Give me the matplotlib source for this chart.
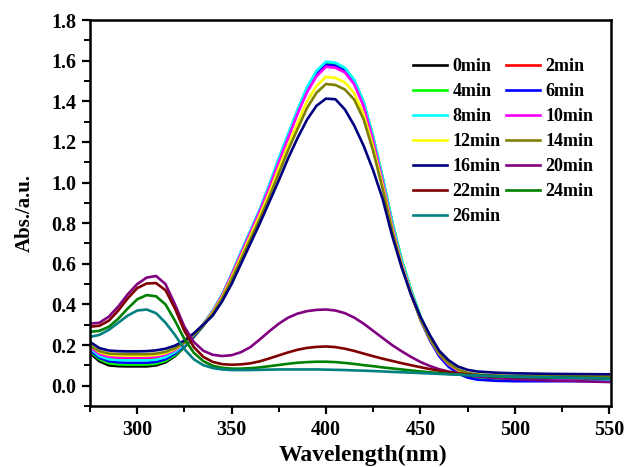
import matplotlib
matplotlib.use("Agg")
import matplotlib.pyplot as plt
from matplotlib.ticker import MultipleLocator

wl = [275, 280, 285, 290, 295, 300, 305, 310, 315, 320, 325, 330, 335, 340, 345,
      350, 355, 360, 365, 370, 375, 380, 385, 390, 395, 400, 405, 410, 415, 420,
      425, 430, 435, 440, 445, 450, 455, 460, 465, 470, 475, 480, 490, 500, 520, 550]

labels = ["0min", "2min", "4min", "6min", "8min", "10min", "12min", "14min",
          "16min", "20min", "22min", "24min", "26min"]

a0 = [0.16, 0.12, 0.10, 0.096, 0.095, 0.095, 0.095, 0.10, 0.115, 0.145, 0.19, 0.24, 0.295, 0.36, 0.44,
      0.54, 0.645, 0.75, 0.86, 0.98, 1.11, 1.23, 1.35, 1.46, 1.54, 1.585, 1.58, 1.555, 1.495, 1.385,
      1.215, 1.015, 0.80, 0.61, 0.46, 0.33, 0.23, 0.15, 0.10, 0.068, 0.05, 0.04, 0.035, 0.032, 0.03, 0.03]
a2 = [0.18, 0.15, 0.138, 0.135, 0.135, 0.135, 0.135, 0.138, 0.148, 0.17, 0.205, 0.25, 0.30, 0.365, 0.445,
      0.545, 0.65, 0.755, 0.865, 0.985, 1.115, 1.235, 1.355, 1.465, 1.545, 1.59, 1.585, 1.56, 1.50, 1.39,
      1.22, 1.02, 0.805, 0.615, 0.465, 0.335, 0.235, 0.155, 0.105, 0.072, 0.055, 0.046, 0.04, 0.037, 0.035, 0.034]
a4 = [0.17, 0.13, 0.11, 0.105, 0.104, 0.104, 0.104, 0.108, 0.122, 0.15, 0.193, 0.243, 0.298, 0.362, 0.445,
      0.545, 0.65, 0.757, 0.865, 0.985, 1.115, 1.235, 1.355, 1.465, 1.545, 1.59, 1.585, 1.562, 1.503, 1.395,
      1.225, 1.027, 0.812, 0.625, 0.475, 0.343, 0.24, 0.157, 0.102, 0.066, 0.045, 0.035, 0.028, 0.026, 0.026, 0.028]
a6 = [0.175, 0.137, 0.12, 0.115, 0.113, 0.113, 0.113, 0.117, 0.13, 0.157, 0.197, 0.245, 0.298, 0.36, 0.44,
      0.54, 0.645, 0.75, 0.86, 0.978, 1.105, 1.225, 1.345, 1.455, 1.533, 1.58, 1.575, 1.55, 1.49, 1.38,
      1.21, 1.01, 0.79, 0.605, 0.455, 0.325, 0.225, 0.145, 0.093, 0.06, 0.04, 0.03, 0.024, 0.022, 0.022, 0.024]
a8 = [0.185, 0.145, 0.13, 0.126, 0.125, 0.125, 0.125, 0.128, 0.14, 0.165, 0.203, 0.25, 0.305, 0.37, 0.45,
      0.55, 0.66, 0.765, 0.87, 0.99, 1.12, 1.24, 1.36, 1.47, 1.55, 1.595, 1.59, 1.565, 1.505, 1.395,
      1.225, 1.025, 0.81, 0.62, 0.47, 0.34, 0.24, 0.16, 0.11, 0.075, 0.055, 0.045, 0.038, 0.035, 0.032, 0.03]
a10 = [0.19, 0.156, 0.143, 0.14, 0.14, 0.14, 0.14, 0.143, 0.153, 0.175, 0.208, 0.252, 0.302, 0.365, 0.445,
       0.545, 0.65, 0.755, 0.86, 0.975, 1.10, 1.22, 1.34, 1.445, 1.523, 1.57, 1.565, 1.542, 1.483, 1.375,
       1.205, 1.005, 0.79, 0.605, 0.46, 0.332, 0.233, 0.155, 0.105, 0.073, 0.056, 0.047, 0.041, 0.038, 0.036, 0.035]
a12 = [0.20, 0.165, 0.152, 0.149, 0.148, 0.148, 0.148, 0.151, 0.16, 0.18, 0.21, 0.252, 0.30, 0.36, 0.437,
       0.533, 0.635, 0.738, 0.84, 0.95, 1.07, 1.185, 1.295, 1.40, 1.475, 1.52, 1.515, 1.493, 1.44, 1.335,
       1.175, 0.985, 0.775, 0.597, 0.455, 0.33, 0.233, 0.157, 0.108, 0.077, 0.061, 0.053, 0.048, 0.046, 0.045, 0.044]
a14 = [0.197, 0.17, 0.158, 0.156, 0.155, 0.155, 0.155, 0.158, 0.166, 0.184, 0.212, 0.252, 0.298, 0.355, 0.43,
       0.523, 0.622, 0.722, 0.822, 0.93, 1.045, 1.16, 1.265, 1.367, 1.442, 1.485, 1.48, 1.458, 1.408, 1.31,
       1.155, 0.97, 0.765, 0.59, 0.45, 0.33, 0.234, 0.158, 0.11, 0.079, 0.063, 0.055, 0.05, 0.048, 0.046, 0.045]
a16 = [0.215, 0.185, 0.173, 0.17, 0.169, 0.169, 0.17, 0.174, 0.182, 0.197, 0.222, 0.258, 0.30, 0.345, 0.415,
       0.50, 0.60, 0.70, 0.80, 0.905, 1.01, 1.12, 1.22, 1.31, 1.378, 1.413, 1.41, 1.36, 1.28, 1.18,
       1.06, 0.92, 0.74, 0.585, 0.45, 0.34, 0.25, 0.172, 0.125, 0.094, 0.078, 0.07, 0.064, 0.061, 0.058, 0.056]
a20 = [0.305, 0.31, 0.34, 0.39, 0.45, 0.50, 0.532, 0.54, 0.50, 0.40, 0.29, 0.215, 0.172, 0.152, 0.146,
       0.15, 0.165, 0.19, 0.228, 0.268, 0.305, 0.335, 0.355, 0.367, 0.373, 0.375, 0.37, 0.357, 0.335, 0.305,
       0.27, 0.235, 0.20, 0.17, 0.142, 0.117, 0.097, 0.081, 0.069, 0.059, 0.051, 0.045, 0.037, 0.032, 0.025, 0.018]
a22 = [0.29, 0.295, 0.32, 0.37, 0.43, 0.48, 0.503, 0.505, 0.47, 0.38, 0.27, 0.19, 0.142, 0.117, 0.106,
       0.103, 0.105, 0.11, 0.12, 0.134, 0.149, 0.164, 0.177, 0.186, 0.191, 0.193, 0.19, 0.182, 0.171, 0.158,
       0.145, 0.133, 0.122, 0.111, 0.101, 0.091, 0.082, 0.074, 0.067, 0.061, 0.056, 0.052, 0.047, 0.044, 0.04, 0.036]
a24 = [0.265, 0.27, 0.29, 0.33, 0.38, 0.425, 0.446, 0.44, 0.40, 0.32, 0.23, 0.162, 0.121, 0.098, 0.088,
       0.084, 0.084, 0.086, 0.09, 0.096, 0.102, 0.108, 0.113, 0.116, 0.118, 0.118, 0.116, 0.112, 0.107, 0.101,
       0.096, 0.09, 0.085, 0.08, 0.075, 0.07, 0.066, 0.062, 0.058, 0.055, 0.052, 0.05, 0.046, 0.043, 0.04, 0.037]
a26 = [0.24, 0.25, 0.275, 0.31, 0.345, 0.37, 0.375, 0.357, 0.31, 0.25, 0.18, 0.13, 0.101, 0.087, 0.08,
       0.077, 0.077, 0.077, 0.078, 0.079, 0.08, 0.08, 0.08, 0.08, 0.08, 0.079, 0.078, 0.077, 0.075, 0.074,
       0.072, 0.07, 0.068, 0.066, 0.064, 0.062, 0.06, 0.058, 0.056, 0.054, 0.052, 0.05, 0.047, 0.045, 0.041, 0.035]

series = [a0, a2, a4, a6, a8, a10, a12, a14, a16, a20, a22, a24, a26]
colors = ["#000000", "#FF0000", "#00FF00", "#0000FF", "#00FFFF", "#FF00FF", "#FFFF00",
          "#808000", "#000080", "#800080", "#800000", "#008000", "#008080"]

plt.rcParams['font.family'] = ['Liberation Serif', 'DejaVu Serif']
plt.rcParams['font.weight'] = 'bold'

fig = plt.figure(figsize=(6.25, 4.67), dpi=100)
ax = fig.add_axes([90 / 625, 1 - 406 / 467, 521 / 625, 386 / 467])

lines = []
for y, c, lab in zip(series, colors, labels):
    ln, = ax.plot(wl, y, color=c, lw=1.9, label=lab, solid_joinstyle='round')
    lines.append(ln)

ax.set_xlim(275, 551)
ax.set_ylim(-0.1, 1.8)
ax.xaxis.set_major_locator(MultipleLocator(50))
ax.xaxis.set_minor_locator(MultipleLocator(25))
ax.yaxis.set_major_locator(MultipleLocator(0.2))
ax.yaxis.set_minor_locator(MultipleLocator(0.1))
ax.set_yticks([0.0, 0.2, 0.4, 0.6, 0.8, 1.0, 1.2, 1.4, 1.6, 1.8])
ax.set_yticklabels(["0.0", "0.2", "0.4", "0.6", "0.8", "1.0", "1.2", "1.4", "1.6", "1.8"])
ax.set_xticks([300, 350, 400, 450, 500, 550])
ax.set_xticklabels(["300", "350", "400", "450", "500", "550"])

ax.tick_params(axis='both', which='major', direction='out', length=6, width=1.6,
               labelsize=14.5, top=False, right=False, pad=4)
ax.tick_params(axis='both', which='minor', direction='out', length=4, width=1.4,
               top=False, right=False)
for lab in ax.get_xticklabels() + ax.get_yticklabels():
    lab.set_fontweight('bold')
for s in ax.spines.values():
    s.set_linewidth(1.8)

ax.set_xlabel("Wavelength(nm)", fontsize=17, fontweight='bold')
ax.xaxis.set_label_coords((363 - 90) / 521, -0.101)
ax.set_ylabel("Abs./a.u.", fontsize=15, fontweight='bold', labelpad=12)

order = [0, 2, 4, 6, 8, 10, 12, 1, 3, 5, 7, 9, 11]
leg = ax.legend([lines[i] for i in order], [labels[i] for i in order], ncol=2,
                loc='upper left', bbox_to_anchor=(0.62, 0.902), frameon=False,
                prop={'weight': 'bold', 'size': 13}, handlelength=1.9,
                handletextpad=0.28, columnspacing=0.3, labelspacing=0.445,
                borderpad=0, borderaxespad=0)

fig.savefig("out.png", dpi=100)
